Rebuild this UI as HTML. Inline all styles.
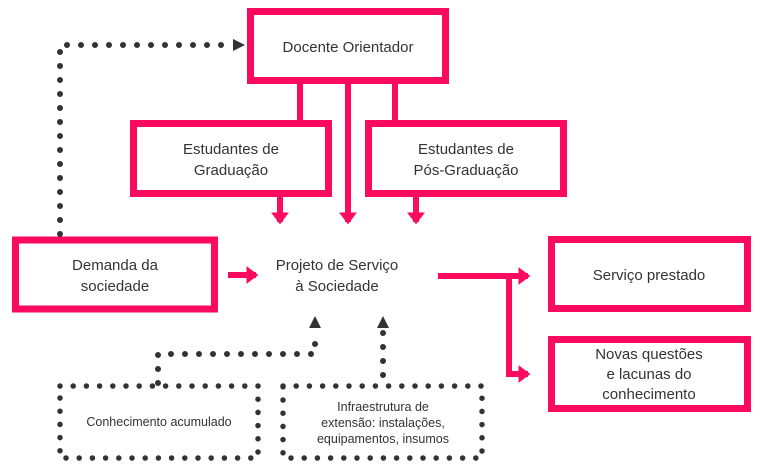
<!DOCTYPE html>
<html><head><meta charset="utf-8"><style>
html,body{margin:0;padding:0;background:#fff;}
svg{display:block;}
text{font-family:"Liberation Sans",sans-serif;fill:#333;font-size:15px;text-anchor:middle;}
.s{font-size:12.5px;}
</style></head><body>
<svg width="768" height="467" viewBox="0 0 768 467" xmlns="http://www.w3.org/2000/svg">
<defs>
<marker id="pa" markerWidth="4" markerHeight="4" refX="1.6" refY="2" orient="auto" markerUnits="strokeWidth"><path d="M0,0.5 L2,2 L0,3.5 Z" fill="#fb0a5e"/></marker>
</defs>
<g fill="none" stroke="#fb0a5e" stroke-width="7">
<rect x="250.5" y="11.5" width="195" height="69"/>
<rect x="133.5" y="123.5" width="195" height="70"/>
<rect x="368.5" y="123.5" width="195" height="70"/>
<rect x="15.5" y="240" width="199" height="69"/>
<rect x="551.5" y="239.5" width="196" height="69"/>
<rect x="551.5" y="339.5" width="196" height="69"/>
</g>
<g stroke="#fb0a5e" stroke-width="6" fill="none">
<line x1="300" y1="83" x2="300" y2="120"/>
<line x1="395" y1="83" x2="395" y2="120"/>
<line x1="348" y1="83" x2="348" y2="222" marker-end="url(#pa)"/>
<line x1="280" y1="196" x2="280" y2="222" marker-end="url(#pa)"/>
<line x1="416" y1="196" x2="416" y2="222" marker-end="url(#pa)"/>
<line x1="228" y1="275" x2="256" y2="275" marker-end="url(#pa)"/>
<line x1="438" y1="276" x2="528" y2="276" marker-end="url(#pa)"/>
<polyline points="509,276 509,374 528,374" marker-end="url(#pa)"/>
</g>
<g stroke="#333" stroke-width="6" stroke-linecap="round" stroke-dasharray="0 14" fill="none">
<polyline points="60,234 60,45 233,45"/>
<polyline points="158,383 158,354 315,354 315,332"/>
<line x1="383" y1="375" x2="383" y2="332"/>
</g>
<g fill="#333">
<path d="M233,39 L245,45 L233,51 Z"/>
<path d="M309,328 L315,316 L321,328 Z"/>
<path d="M377,328 L383,316 L389,328 Z"/>
</g>
<g stroke="#333" stroke-width="5.5" stroke-linecap="round" stroke-dasharray="0 13.2" fill="none">
<rect x="60" y="386" width="198" height="72"/>
<rect x="283" y="386" width="199" height="72"/>
</g>
<text x="348" y="52">Docente Orientador</text>
<text x="231" y="154">Estudantes de</text>
<text x="231" y="175">Graduação</text>
<text x="466" y="154">Estudantes de</text>
<text x="466" y="175">Pós-Graduação</text>
<text x="115" y="270">Demanda da</text>
<text x="115" y="291">sociedade</text>
<text x="337" y="270">Projeto de Serviço</text>
<text x="337" y="291">à Sociedade</text>
<text x="649" y="280">Serviço prestado</text>
<text x="649" y="359">Novas questões</text>
<text x="649" y="379">e lacunas do</text>
<text x="649" y="399">conhecimento</text>
<text class="s" x="159" y="426">Conhecimento acumulado</text>
<text class="s" x="383" y="411">Infraestrutura de</text>
<text class="s" x="383" y="427">extensão: instalações,</text>
<text class="s" x="383" y="443">equipamentos, insumos</text>
</svg>
</body></html>
